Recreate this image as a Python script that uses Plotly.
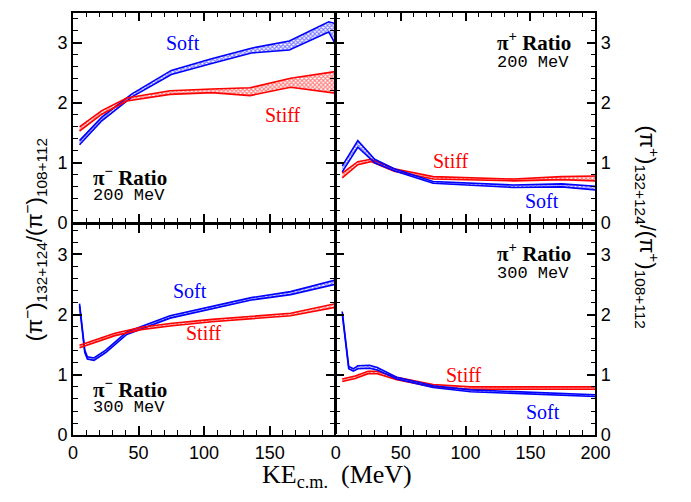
import plotly.graph_objects as go

W, H = 691, 502

# ---------------- data ----------------
# Top-left: pi- ratio, 200 MeV
tl_soft_x = [5, 22, 45, 75, 105, 136, 165, 195, 200]
tl_soft_up = [1.37, 1.76, 2.15, 2.54, 2.73, 2.91, 3.03, 3.35, 3.32]
tl_soft_lo = [1.30, 1.70, 2.10, 2.47, 2.65, 2.83, 2.88, 3.18, 2.98]
tl_stiff_x = [5, 22, 41, 74, 106, 135, 166, 200]
tl_stiff_up = [1.60, 1.87, 2.08, 2.20, 2.23, 2.25, 2.41, 2.52]
tl_stiff_lo = [1.53, 1.81, 2.03, 2.14, 2.17, 2.12, 2.26, 2.16]

# Top-right: pi+ ratio, 200 MeV
tr_soft_x = [5, 17, 30, 45, 75, 137, 174, 200]
tr_soft_up = [0.95, 1.37, 1.06, 0.90, 0.69, 0.63, 0.65, 0.61]
tr_soft_lo = [0.85, 1.26, 1.00, 0.87, 0.66, 0.59, 0.60, 0.55]
tr_stiff_x = [5, 17, 27, 45, 75, 137, 174, 200]
tr_stiff_up = [0.83, 1.02, 1.06, 0.90, 0.77, 0.73, 0.77, 0.78]
tr_stiff_lo = [0.75, 0.97, 1.02, 0.86, 0.73, 0.70, 0.72, 0.70]

# Bottom-left: pi- ratio, 300 MeV
bl_soft_x = [5, 9, 11, 16, 25, 41, 74, 136, 166, 200]
bl_soft_up = [2.18, 1.41, 1.30, 1.28, 1.41, 1.71, 1.98, 2.28, 2.38, 2.57]
bl_soft_lo = [2.14, 1.37, 1.26, 1.24, 1.37, 1.67, 1.94, 2.24, 2.33, 2.50]
bl_stiff_x = [5, 32, 52, 74, 106, 136, 166, 200]
bl_stiff_up = [1.49, 1.69, 1.79, 1.85, 1.92, 1.97, 2.02, 2.18]
bl_stiff_lo = [1.45, 1.65, 1.75, 1.81, 1.88, 1.93, 1.98, 2.12]

# Bottom-right: pi+ ratio, 300 MeV
br_soft_x = [5, 10, 13.5, 17, 26, 32, 47, 75, 104, 149, 200]
br_soft_up = [2.05, 1.14, 1.10, 1.15, 1.16, 1.12, 0.96, 0.82, 0.75, 0.71, 0.67]
br_soft_lo = [2.01, 1.10, 1.06, 1.10, 1.11, 1.08, 0.93, 0.79, 0.72, 0.68, 0.64]
br_stiff_x = [5, 15, 25, 32, 47, 75, 104, 149, 200]
br_stiff_up = [0.93, 0.98, 1.06, 1.06, 0.96, 0.84, 0.80, 0.80, 0.80]
br_stiff_lo = [0.89, 0.94, 1.02, 1.02, 0.92, 0.80, 0.76, 0.76, 0.76]

x_minor = 10
y_minor = 0.2

BLUE = "#0000ff"
RED = "#ff0000"

fig = go.Figure()

# panel geometry (pixels); a tiny gap keeps plotly from treating panels as touching
XL0, XM, XR1 = 70, 340, 608
YT0, YM, YB1 = 13, 228, 444
GAP = 0.6

def fx(p):
    return p / W

def fy(p):
    return 1 - p / H

def band(xa, ya, xs, lo, up, color):
    fig.add_trace(go.Scatter(x=xs, y=lo, xaxis=xa, yaxis=ya, mode="lines",
                             line=dict(color=color, width=1.6), showlegend=False,
                             hoverinfo="skip"))
    fig.add_trace(go.Scatter(x=xs, y=up, xaxis=xa, yaxis=ya, mode="lines",
                             line=dict(color=color, width=1.6), fill="tonexty",
                             fillcolor="rgba(0,0,0,0)",
                             fillpattern=dict(shape="x", fgcolor=color, size=3,
                                              solidity=0.6, bgcolor="rgba(255,255,255,0)"),
                             showlegend=False, hoverinfo="skip"))

band("x", "y", tl_soft_x, tl_soft_lo, tl_soft_up, BLUE)
band("x", "y", tl_stiff_x, tl_stiff_lo, tl_stiff_up, RED)
band("x2", "y2", tr_stiff_x, tr_stiff_lo, tr_stiff_up, RED)
band("x2", "y2", tr_soft_x, tr_soft_lo, tr_soft_up, BLUE)
band("x3", "y3", bl_soft_x, bl_soft_lo, bl_soft_up, BLUE)
band("x3", "y3", bl_stiff_x, bl_stiff_lo, bl_stiff_up, RED)
band("x4", "y4", br_stiff_x, br_stiff_lo, br_stiff_up, RED)
band("x4", "y4", br_soft_x, br_soft_lo, br_soft_up, BLUE)

def xaxis_cfg(domain, anchor, xmax, labels=True):
    d = dict(domain=domain, anchor=anchor, range=[0, xmax],
             showline=True, linecolor="black", linewidth=1.5,
             mirror="allticks", ticks="inside", ticklen=9,
             tickwidth=1.6, tickcolor="black",
             minor=dict(dtick=x_minor, ticks="inside", ticklen=5,
                        tickwidth=1.2, tickcolor="black"))
    if not labels:
        d["showticklabels"] = False
    return d

def yaxis_cfg(domain, anchor, side):
    return dict(domain=domain, anchor=anchor, range=[0, 3.5], side=side,
                showline=True, linecolor="black", linewidth=1.5,
                mirror="allticks", ticks="inside", ticklen=9,
                tickwidth=1.6, tickcolor="black",
                minor=dict(dtick=y_minor, ticks="inside", ticklen=5,
                           tickwidth=1.2, tickcolor="black"))

xd_left = [fx(XL0), fx(XM - GAP)]
xd_right = [fx(XM + GAP), fx(XR1)]
yd_top = [fy(YM - GAP), fy(YT0)]
yd_bot = [fy(YB1), fy(YM + GAP)]

fig.update_layout(
    xaxis=xaxis_cfg(xd_left, "y", 199.5, labels=False),
    yaxis=yaxis_cfg(yd_top, "x", "left"),
    xaxis2=xaxis_cfg(xd_right, "y2", 200, labels=False),
    yaxis2=yaxis_cfg(yd_top, "x2", "right"),
    xaxis3=xaxis_cfg(xd_left, "y3", 199.5),
    yaxis3=yaxis_cfg(yd_bot, "x3", "left"),
    xaxis4=xaxis_cfg(xd_right, "y4", 200),
    yaxis4=yaxis_cfg(yd_bot, "x4", "right"),
)

serif = "Liberation Serif"
mono = "Liberation Mono"
ann = []

def txt(xr, yr, x, y, text, color="black", size=20, family=serif, xanchor="center"):
    ann.append(dict(xref=xr, yref=yr, x=x, y=y, text=text, showarrow=False,
                    font=dict(family=family, size=size, color=color),
                    xanchor=xanchor, yanchor="middle"))

# top-left
txt("x", "y", 84, 2.99, "Soft", BLUE)
txt("x", "y", 160, 1.79, "Stiff", RED)
txt("x", "y", 14, 0.78, "<b>π<sup>−</sup> Ratio</b>", size=21, xanchor="left")
txt("x", "y", 14, 0.45, "200 MeV", size=17, family=mono, xanchor="left")
# top-right
txt("x2", "y2", 183, 3.02, "<b>π<sup>+</sup> Ratio</b>", size=21, xanchor="right")
txt("x2", "y2", 181, 2.67, "200 MeV", size=17, family=mono, xanchor="right")
txt("x2", "y2", 89, 1.03, "Stiff", RED)
txt("x2", "y2", 159, 0.37, "Soft", BLUE)
# bottom-left
txt("x3", "y3", 89, 2.39, "Soft", BLUE)
txt("x3", "y3", 100, 1.69, "Stiff", RED)
txt("x3", "y3", 14, 0.78, "<b>π<sup>−</sup> Ratio</b>", size=21, xanchor="left")
txt("x3", "y3", 14, 0.46, "300 MeV", size=17, family=mono, xanchor="left")
# bottom-right
txt("x4", "y4", 183, 3.02, "<b>π<sup>+</sup> Ratio</b>", size=21, xanchor="right")
txt("x4", "y4", 181, 2.68, "300 MeV", size=17, family=mono, xanchor="right")
txt("x4", "y4", 99, 0.99, "Stiff", RED)
txt("x4", "y4", 160, 0.39, "Soft", BLUE)

# axis titles
ann.append(dict(xref="paper", yref="paper", x=fx(342), y=fy(486),
                text="KE<sub>c.m.</sub>  (MeV)", showarrow=False,
                font=dict(family=serif, size=26, color="black"),
                xanchor="center", yanchor="middle"))
ann.append(dict(xref="paper", yref="paper", x=fx(30), y=fy(245),
                text="(π<sup>−</sup>)<sub>132+124</sub>/(π<sup>−</sup>)<sub>108+112</sub>",
                showarrow=False, textangle=-90,
                font=dict(family="Liberation Sans", size=22, color="black"),
                xanchor="center", yanchor="middle"))
ann.append(dict(xref="paper", yref="paper", x=fx(662), y=fy(232),
                text="(π<sup>+</sup>)<sub>132+124</sub>/(π<sup>+</sup>)<sub>108+112</sub>",
                showarrow=False, textangle=90,
                font=dict(family="Liberation Sans", size=22, color="black"),
                xanchor="center", yanchor="middle"))

fig.update_layout(annotations=ann, width=W, height=H,
                  font=dict(family="Liberation Sans", size=18, color="black"),
                  margin=dict(l=0, r=0, t=0, b=0),
                  paper_bgcolor="white", plot_bgcolor="white", showlegend=False)

fig.write_html("out.html")
